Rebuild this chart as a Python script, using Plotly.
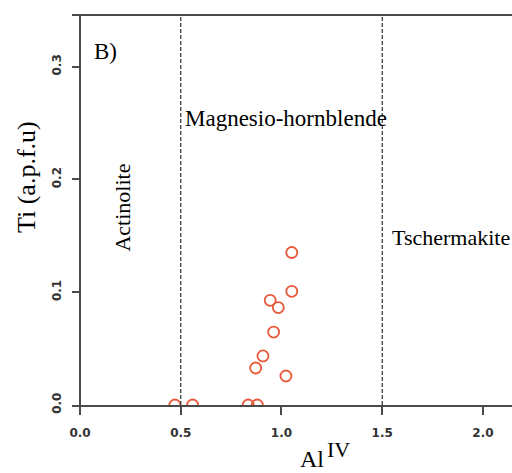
import plotly.graph_objects as go

# Data
al_iv = [1.051, 1.051, 0.944, 0.984, 0.961, 0.908, 0.872, 1.022, 0.471, 0.559, 0.835, 0.880]
ti = [0.1352, 0.1008, 0.0928, 0.0864, 0.0647, 0.0435, 0.0328, 0.0257, 0.0, 0.0, 0.0, 0.0]

boundaries = [0.5, 1.5]
x_ticks = [0.0, 0.5, 1.0, 1.5, 2.0]
x_tick_text = ["0.0", "0.5", "1.0", "1.5", "2.0"]
y_ticks = [0.0, 0.1, 0.2, 0.3]
y_tick_text = ["0.0", "0.1", "0.2", "0.3"]

W, H = 512, 473
ML, MR, MT, MB = 72, 0, 16, 68
X_RANGE = [-0.0397, 2.144]
Y_RANGE = [0.0, 0.3449]

axis_col = "#4a4a4a"
serif = "Liberation Serif, Times New Roman, serif"
tickfont = dict(family="DejaVu Sans, Verdana, sans-serif", size=12, color="#333333", weight="bold")

fig = go.Figure()

fig.add_trace(go.Scatter(
    x=al_iv, y=ti, mode="markers",
    marker=dict(symbol="circle-open", size=11, color="#E8593A", line=dict(width=1.8, color="#E8593A")),
    cliponaxis=True, showlegend=False, hoverinfo="skip",
))

# dashed boundary lines
for b in boundaries:
    fig.add_shape(type="line", xref="x", yref="y", x0=b, x1=b, y0=Y_RANGE[0], y1=Y_RANGE[1],
                  line=dict(color="#333333", width=1.2, dash="4px,2px"))

# y axis line at x = 0
fig.add_shape(type="line", xref="x", yref="y", x0=0, x1=0, y0=Y_RANGE[0], y1=Y_RANGE[1],
              line=dict(color=axis_col, width=2))


def px2paper(px, py):
    return (px - ML) / (W - ML - MR), (H - MB - py) / (H - MT - MB)


annos = []
annos.append(dict(text="B)", x=0.06, y=0.313, xref="x", yref="y", xanchor="left", yanchor="middle",
                  showarrow=False, font=dict(family=serif, size=23, color="black")))
annos.append(dict(text="Magnesio-hornblende", x=0.512, y=0.254, xref="x", yref="y",
                  xanchor="left", yanchor="middle", showarrow=False,
                  font=dict(family=serif, size=23, color="black")))
annos.append(dict(text="Tschermakite", x=1.538, y=0.1487, xref="x", yref="y",
                  xanchor="left", yanchor="middle", showarrow=False,
                  font=dict(family=serif, size=22, color="black")))
annos.append(dict(text="Actinolite", x=0.213, y=0.175, xref="x", yref="y",
                  xanchor="center", yanchor="middle", textangle=-90, showarrow=False,
                  font=dict(family=serif, size=22, color="black")))

# axis titles
tx, ty = px2paper(26, 177)
annos.append(dict(text="Ti (a.p.f.u)", x=tx, y=ty, xref="paper", yref="paper",
                  xanchor="center", yanchor="middle", textangle=-90, showarrow=False,
                  font=dict(family=serif, size=26, color="black")))
ax_, ay_ = px2paper(311.5, 459)
annos.append(dict(text="Al", x=ax_, y=ay_, xref="paper", yref="paper",
                  xanchor="center", yanchor="middle", showarrow=False,
                  font=dict(family=serif, size=24, color="black")))
sx, sy = px2paper(338.5, 449)
annos.append(dict(text="IV", x=sx, y=sy, xref="paper", yref="paper",
                  xanchor="center", yanchor="middle", showarrow=False,
                  font=dict(family=serif, size=22, color="black")))

fig.update_layout(
    width=W, height=H,
    margin=dict(l=ML, r=MR, t=MT, b=MB, pad=0),
    paper_bgcolor="white", plot_bgcolor="white",
    annotations=annos,
    xaxis=dict(range=X_RANGE, tickvals=x_ticks, ticktext=x_tick_text,
               showgrid=False, zeroline=False, showline=True, mirror=True,
               linecolor=axis_col, linewidth=2, ticks="outside", ticklen=8, tickwidth=2,
               tickcolor=axis_col, tickfont=tickfont, ticklabelstandoff=8),
    yaxis=dict(range=Y_RANGE, tickvals=y_ticks, ticktext=y_tick_text,
               showgrid=False, zeroline=False, showline=False,
               ticks="inside", ticklen=8, tickwidth=2, tickcolor=axis_col,
               tickangle=-90, tickfont=tickfont, ticklabelstandoff=8),
)

fig.write_html("out.html")
